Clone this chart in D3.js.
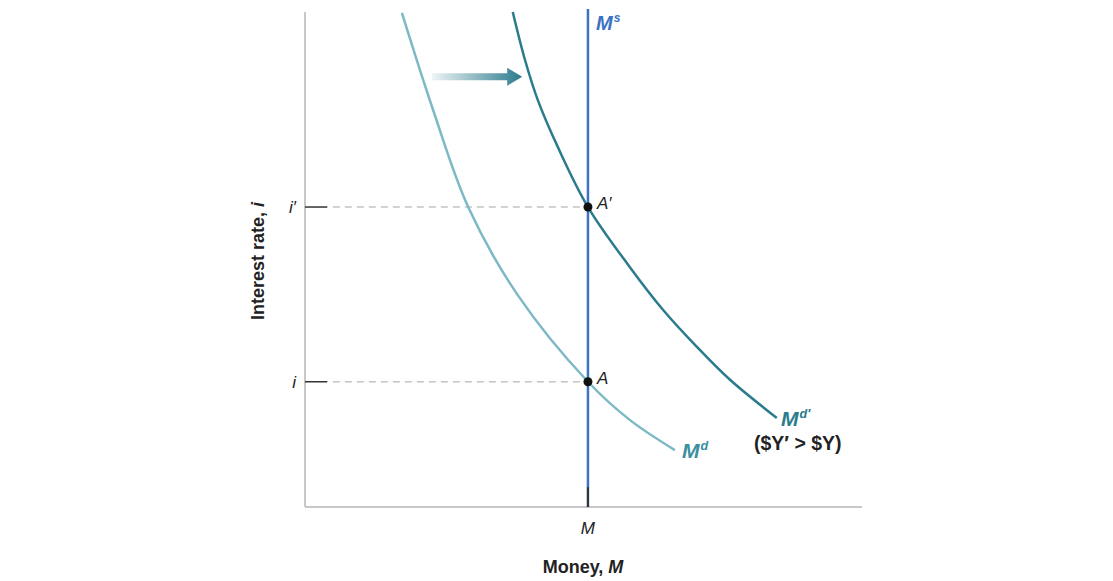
<!DOCTYPE html>
<html><head><meta charset="utf-8">
<script src="https://cdn.jsdelivr.net/npm/d3@7/dist/d3.min.js"></script>
<style>body{margin:0;background:#fff}svg{display:block}text{font-family:"Liberation Sans",Arial,sans-serif}</style>
</head><body>
<svg id="c" width="1113" height="581"></svg>
<script>
// Data (money units, interest rate units)
const mdPoints = [[1.74,9.98],[2.30,8.02],[2.93,6.06],[3.82,4.28],[5.08,2.53],[5.83,1.76],[6.64,1.15]];
const mdPrimePoints = [[3.73,10.0],[3.95,9.03],[4.18,8.22],[4.54,7.27],[5.08,6.06],[5.83,4.85],[6.43,3.98],[7.04,3.23],[7.63,2.57],[8.47,1.80]];
const moneySupply = 5.08;
const rates = [{label:"i", value:2.53, point:"A"},{label:"i\u2032", value:6.06, point:"A\u2032"}];

const svg = d3.select("#c");
const x = d3.scaleLinear().domain([0,10]).range([305,862]);
const y = d3.scaleLinear().domain([0,10]).range([507,12]);

const line = d3.line().x(d=>x(d[0])).y(d=>y(d[1])).curve(d3.curveCatmullRom.alpha(0.5));

// axes
svg.append("line").attr("x1",x(0)).attr("x2",x(0)).attr("y1",y(10)).attr("y2",y(0)).attr("stroke","#c8c8c8").attr("stroke-width",2);
svg.append("line").attr("x1",x(0)).attr("x2",x(10)).attr("y1",y(0)).attr("y2",y(0)).attr("stroke","#c8c8c8").attr("stroke-width",2);

// dashed guide lines and ticks
rates.forEach(r=>{
  svg.append("line").attr("x1",x(0.5)).attr("x2",x(moneySupply)).attr("y1",y(r.value)).attr("y2",y(r.value))
    .attr("stroke","#c4c4c4").attr("stroke-width",1.5).attr("stroke-dasharray","7,5");
  svg.append("line").attr("x1",x(0)).attr("x2",x(0.4)).attr("y1",y(r.value)).attr("y2",y(r.value))
    .attr("stroke","#333").attr("stroke-width",1.5);
  svg.append("text").attr("x",x(0)-9).attr("y",y(r.value)+6).attr("text-anchor","end")
    .attr("font-size",17).attr("font-style","italic").attr("fill","#222").text(r.label);
});

// demand curves
svg.append("path").attr("d",line(mdPoints)).attr("fill","none").attr("stroke","#7db9c5").attr("stroke-width",2.5);
svg.append("path").attr("d",line(mdPrimePoints)).attr("fill","none").attr("stroke","#2a7b8d").attr("stroke-width",2.5);

// money supply
svg.append("line").attr("x1",x(moneySupply)).attr("x2",x(moneySupply)).attr("y1",y(10.06)).attr("y2",y(0))
  .attr("stroke","#3b72c4").attr("stroke-width",2.5);
svg.append("line").attr("x1",x(moneySupply)).attr("x2",x(moneySupply)).attr("y1",y(0.4)).attr("y2",y(0))
  .attr("stroke","#333").attr("stroke-width",2);

// points
rates.forEach(r=>{
  svg.append("circle").attr("cx",x(moneySupply)).attr("cy",y(r.value)).attr("r",4.5).attr("fill","#111");
  svg.append("text").attr("x",x(moneySupply)+9).attr("y",y(r.value)+2).attr("font-size",17)
    .attr("font-style","italic").attr("fill","#222").text(r.point);
});

// arrow
const defs = svg.append("defs");
const g = defs.append("linearGradient").attr("id","ag").attr("x1","0%").attr("x2","100%");
g.append("stop").attr("offset","0%").attr("stop-color","#2a7b8d").attr("stop-opacity",0.08);
g.append("stop").attr("offset","100%").attr("stop-color","#2a7b8d").attr("stop-opacity",1);
const ay = y(8.69);
svg.append("path").attr("d",`M${x(2.28)},${ay-3.5} L${x(3.63)},${ay-3.5} L${x(3.63)},${ay-9} L${x(3.9)},${ay} L${x(3.63)},${ay+9} L${x(3.63)},${ay+3.5} L${x(2.28)},${ay+3.5} Z`)
  .attr("fill","url(#ag)");

// labels
function supLabel(px,py,base,sup,color,size){
  const t = svg.append("text").attr("x",px).attr("y",py).attr("font-size",size).attr("font-weight","bold")
    .attr("font-style","italic").attr("fill",color);
  t.append("tspan").text(base);
  t.append("tspan").attr("font-size",size*0.6).attr("dx",1).attr("dy",-size*0.4).text(sup);
}
supLabel(x(moneySupply)+8, 30, "M", "s", "#3b72c4", 20);
supLabel(682, 458, "M", "d", "#3a8fa0", 21);
supLabel(781, 426, "M", "d\u2032", "#2a7b8d", 21);
svg.append("text").attr("x",754).attr("y",450).attr("font-size",19.5).attr("font-weight","bold").attr("fill","#222")
  .text("($Y\u2032 > $Y)");

svg.append("text").attr("x",x(moneySupply)).attr("y",534).attr("text-anchor","middle").attr("font-size",17)
  .attr("font-style","italic").attr("fill","#222").text("M");
const xl = svg.append("text").attr("x",583).attr("y",573).attr("text-anchor","middle").attr("font-size",18)
  .attr("font-weight","bold").attr("fill","#222");
xl.append("tspan").text("Money, ");
xl.append("tspan").attr("font-style","italic").text("M");
const yl = svg.append("text").attr("transform","translate(264,261) rotate(-90)").attr("text-anchor","middle")
  .attr("font-size",18).attr("font-weight","bold").attr("fill","#222");
yl.append("tspan").text("Interest rate, ");
yl.append("tspan").attr("font-style","italic").text("i");
</script>
</body></html>
